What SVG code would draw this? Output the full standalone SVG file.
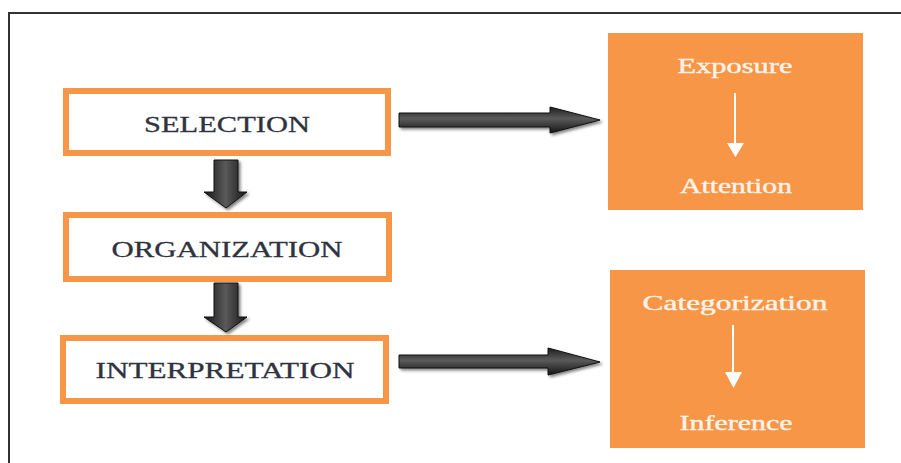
<svg xmlns="http://www.w3.org/2000/svg" width="901" height="463" viewBox="0 0 901 463">
<defs>
<linearGradient id="gh" x1="0" y1="0" x2="0" y2="1">
<stop offset="0" stop-color="#1e1e1e"/>
<stop offset="0.45" stop-color="#5a5a5a"/>
<stop offset="1" stop-color="#151515"/>
</linearGradient>
<linearGradient id="gv" x1="0" y1="0" x2="1" y2="0">
<stop offset="0" stop-color="#151515"/>
<stop offset="0.5" stop-color="#5a5a5a"/>
<stop offset="1" stop-color="#151515"/>
</linearGradient>
<filter id="sh" x="-20%" y="-30%" width="140%" height="160%">
<feGaussianBlur in="SourceAlpha" stdDeviation="1.5"/>
<feOffset dx="1.5" dy="2" result="b"/>
<feComponentTransfer><feFuncA type="linear" slope="0.5"/></feComponentTransfer>
<feMerge><feMergeNode/><feMergeNode in="SourceGraphic"/></feMerge>
</filter>
</defs>
<style>
.box{fill:#ffffff;stroke:#f79646;stroke-width:6}
.obox{fill:#f79646}
.lbl{font-family:"Liberation Serif","Times New Roman",serif;font-size:23px;fill:#2f3340;text-anchor:middle;stroke:#2f3340;stroke-width:0.3}
.wl{font-family:"Liberation Serif","Times New Roman",serif;font-size:21px;fill:#fdf3ea;text-anchor:middle;stroke:#fdf3ea;stroke-width:0.4}
.wa{stroke:#ffffff;stroke-width:2;fill:none}
.wh{fill:#ffffff}
</style>
<rect x="0" y="0" width="901" height="463" fill="#ffffff"/>
<rect x="9" y="13" width="900" height="470" fill="none" stroke="#333333" stroke-width="2"/>

<g id="selection">
<rect class="box" x="66" y="91" width="322" height="62"/>
<text class="lbl" x="227" y="132" textLength="166" lengthAdjust="spacingAndGlyphs">SELECTION</text>
</g>
<g id="organization">
<rect class="box" x="66" y="215" width="323" height="64"/>
<text class="lbl" x="227" y="257" textLength="231" lengthAdjust="spacingAndGlyphs">ORGANIZATION</text>
</g>
<g id="interpretation">
<rect class="box" x="63" y="338" width="323" height="63"/>
<text class="lbl" x="225" y="378" textLength="259" lengthAdjust="spacingAndGlyphs">INTERPRETATION</text>
</g>
<g id="exposure-attention">
<rect class="obox" x="608" y="33" width="255" height="177"/>
<text class="wl" x="735" y="73" textLength="115" lengthAdjust="spacingAndGlyphs">Exposure</text>
<line class="wa" x1="735" y1="93" x2="735" y2="145"/>
<polygon class="wh" points="727,143 744,143 735.5,157"/>
<text class="wl" x="736" y="193" textLength="112" lengthAdjust="spacingAndGlyphs">Attention</text>
</g>
<g id="categorization-inference">
<rect class="obox" x="610" y="270" width="255" height="178"/>
<text class="wl" x="735" y="310" textLength="185" lengthAdjust="spacingAndGlyphs">Categorization</text>
<line class="wa" x1="733" y1="325" x2="733" y2="374"/>
<polygon class="wh" points="725,372 742,372 733.5,388"/>
<text class="wl" x="736" y="430" textLength="113" lengthAdjust="spacingAndGlyphs">Inference</text>
</g>

<g id="connectors" filter="url(#sh)">
<polygon fill="url(#gh)" stroke="#111" stroke-width="1" points="399,113 550,113 550,107 600,120 550,133 550,127 399,127"/>
<polygon fill="url(#gh)" stroke="#111" stroke-width="1" points="399,355 548,355 548,348 600,362 548,375 548,368 399,368"/>
<polygon fill="url(#gv)" stroke="#111" stroke-width="1" points="214,160 238,160 238,192 247,192 226,208 204,192 214,192"/>
<polygon fill="url(#gv)" stroke="#111" stroke-width="1" points="214,283 238,283 238,317 247,317 226,332 204,317 214,317"/>
</g>
</svg>
